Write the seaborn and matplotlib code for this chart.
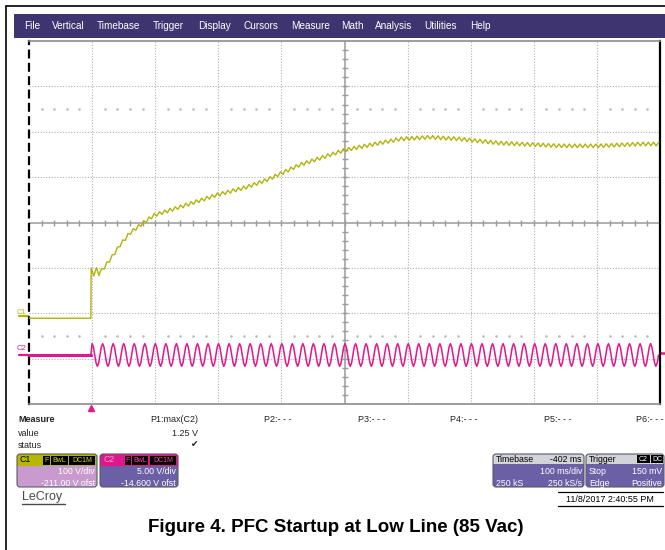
import numpy as np
import matplotlib
matplotlib.use("Agg")
import matplotlib.pyplot as plt
import seaborn as sns
from matplotlib.patches import Rectangle, FancyBboxPatch

sns.set_theme(style="white")
plt.rcParams['font.family'] = ['Liberation Sans', 'DejaVu Sans']

menu_items = ["File", "Vertical", "Timebase", "Trigger", "Display", "Cursors",
              "Measure", "Math", "Analysis", "Utilities", "Help"]
menu_x = [24, 52, 97, 153, 198, 243, 291, 341, 375, 424, 470]

# 100 ms/div, trigger sits 98 ms right of the left edge
t_left, t_right = -98, 902

# C1: 100 V/div, -211 V offset (bulk voltage level, V)
c1_vdiv, c1_ofst = 100.0, -211.0
c1_t = [-98, -0.5, 0.5, 16, 30, 46, 62, 78, 100, 141, 200, 247, 279, 331,
        403, 490, 537, 585, 648, 743, 806, 870, 902]
c1_v = [0, 0, 102, 103, 128, 161, 188, 205, 227, 245, 272, 289, 305, 338,
        371, 395, 399, 395, 386, 380, 380, 384, 384]
# one 120 Hz ripple period (4 samples, V); larger during the first ~17 ms
c1_ripple = [4, 0, -4, 0]
c1_ripple_start = [9, 0, -9, 0]
c1_ripple_ms = 8.33

# C2: 5 V/div, -14.6 V offset; one 60 Hz line cycle (8 samples, V)
c2_vdiv, c2_ofst = 5.0, -14.6
c2_cycle = [1.25, 0.88, 0.0, -0.88, -1.25, -0.88, 0.0, 0.88]
c2_period_ms = 16.7

measure_cols = ["P1:max(C2)", "P2:- - -", "P3:- - -", "P4:- - -", "P5:- - -", "P6:- - -"]
measure_x = [198, 291, 385, 478, 571, 664]

C1_COL = '#b3b30c'
C2_COL = '#e2178a'
GRID = '#b0b0b0'

# ---- build traces ----
n1 = int(t_right / c1_ripple_ms * 4)
t1 = 0.5 + np.arange(n1) * c1_ripple_ms / 4
rip = np.tile(c1_ripple, n1 // 4 + 1)[:n1]
rip_start = np.tile(c1_ripple_start, n1 // 4 + 1)[:n1]
rip = np.where(t1 < 17, rip_start, rip)
c1_trace_t = np.concatenate([[-98, 0], t1])
c1_trace_v = np.concatenate([[0, 0], np.interp(t1, c1_t, c1_v) + rip])

n2 = int((t_right - 2) / c2_period_ms * 8)
t2 = 2 + np.arange(n2) * c2_period_ms / 8
c2_trace_t = np.concatenate([[0], t2])
c2_trace_v = np.concatenate([[0], np.tile(c2_cycle, n2 // 8 + 1)[:n2]])

fig = plt.figure(figsize=(6.65, 5.5), dpi=100)

# pixel-space canvas for the scope chrome
bg = fig.add_axes([0, 0, 1, 1])
bg.set_xlim(0, 665)
bg.set_ylim(550, 0)
bg.axis('off')

# outer frame
bg.plot([6, 6], [6, 550], color='black', lw=1.2)
bg.plot([6, 665], [6, 6], color='black', lw=1.2)

# menu bar
bg.add_patch(Rectangle((14, 14), 651, 24, fc='#3e3570', ec='none'))
for name, x in zip(menu_items, menu_x):
    bg.text(x, 26, name, color='white', fontsize=7.2, ha='left', va='center')

# channel markers left of the grid
bg.text(17, 312, "C1", color=C1_COL, fontsize=5.5, ha='left', va='center')
bg.plot([19, 29], [316, 316], color=C1_COL, lw=1.6)
bg.text(17, 349, "C2", color=C2_COL, fontsize=5.5, ha='left', va='center')
bg.plot([19, 29], [355, 355], color=C2_COL, lw=1.6)
# trigger markers
bg.plot(91, 408, marker='^', color=C2_COL, ms=4.5)
bg.plot([660, 665], [353, 353], color=C2_COL, lw=1.8)

# ---- the graticule + traces ----
ax = fig.add_axes([29 / 665, 1 - 404 / 550, 631 / 665, 363 / 550])
ax.set_xlim(t_left, t_right)
ax.set_ylim(-4 * c1_vdiv - c1_ofst, 4 * c1_vdiv - c1_ofst)
ax.set_xticks([])
ax.set_yticks([])
ax.set_facecolor('white')

x_center = t_left + 500
y_center = -c1_ofst
for k in range(1, 10):
    if k != 5:
        ax.axvline(t_left + 100 * k, color=GRID, lw=0.8, ls=(0, (1, 1.5)), zorder=1)
for d in range(-3, 4):
    if d != 0:
        ax.axhline(d * c1_vdiv - c1_ofst, color=GRID, lw=0.8, ls=(0, (1, 1.5)), zorder=1)
ax.axvline(x_center, color='#9a9a9a', lw=1.1, zorder=1)
ax.axhline(y_center, color='#9a9a9a', lw=1.1, zorder=1)
minor_t = [t_left + 20 * k for k in range(1, 50)]
ax.plot(minor_t, [y_center] * len(minor_t), ls='none', marker='|', ms=4.5,
        mew=1.0, color='#9a9a9a', zorder=1)
minor_v = [y_center + 20 * k for k in range(-19, 20) if k != 0]
ax.plot([x_center] * len(minor_v), minor_v, ls='none', marker='_', ms=4.5,
        mew=1.0, color='#9a9a9a', zorder=1)
dot_t = [t_left + 20 * k for k in range(1, 50) if k % 5 != 0]
for d in (2.5, -2.5):
    ax.plot(dot_t, [d * c1_vdiv - c1_ofst] * len(dot_t), ls='none', marker='.',
            ms=1.6, color='#b8b8b8', zorder=1)

for side in ('top', 'bottom'):
    ax.spines[side].set_color('#8c8c8c')
    ax.spines[side].set_linewidth(1.2)
ax.spines['right'].set_color('black')
ax.spines['right'].set_linewidth(1.6)
ax.spines['left'].set_color('black')
ax.spines['left'].set_linewidth(1.6)
ax.spines['left'].set_linestyle((0, (3, 3)))

sns.lineplot(x=c1_trace_t, y=c1_trace_v, ax=ax, color=C1_COL, lw=1.0,
             estimator=None, sort=False, zorder=3)

ax2 = ax.twinx()
ax2.set_ylim(-4 * c2_vdiv - c2_ofst, 4 * c2_vdiv - c2_ofst)
ax2.set_yticks([])
ax2.axis('off')
sns.lineplot(x=[t_left, 0], y=[0, 0], ax=ax2, color=C2_COL, lw=2.2,
             estimator=None, sort=False, zorder=3)
sns.lineplot(x=c2_trace_t, y=c2_trace_v, ax=ax2, color=C2_COL, lw=1.1,
             estimator=None, sort=False, zorder=3)

# ---- measure table ----
TXT = '#222222'
bg.text(18, 420, "Measure", fontsize=6.5, weight='bold', color=TXT, va='center')
bg.text(18, 433, "value", fontsize=6.5, color=TXT, va='center')
bg.text(18, 445, "status", fontsize=6.5, color=TXT, va='center')
for label, x in zip(measure_cols, measure_x):
    bg.text(x, 420, label, fontsize=6.5, color=TXT, ha='right', va='center')
bg.text(198, 433, "1.25 V", fontsize=6.5, color=TXT, ha='right', va='center')
bg.text(198, 445, "\u2714", fontsize=6.5, color=TXT, ha='right', va='center',
        family=['DejaVu Sans'])


def panel(x0, x1, y0, y1, hh, head_c, body_c):
    w, h = x1 - x0, y1 - y0
    bg.add_patch(FancyBboxPatch((x0, y0), w, h, boxstyle="round,pad=0,rounding_size=3",
                                fc=body_c, ec='none'))
    bg.add_patch(FancyBboxPatch((x0, y0), w, hh + 4, boxstyle="round,pad=0,rounding_size=3",
                                fc=head_c, ec='none'))
    bg.add_patch(Rectangle((x0, y0 + hh), w, 5, fc=body_c, ec='none'))
    bg.add_patch(FancyBboxPatch((x0, y0), w, h, boxstyle="round,pad=0,rounding_size=3",
                                fc='none', ec='#5a5a6a', lw=0.8))


def badge(x0, x1, label, fc, tc, y0=456, y1=465):
    bg.add_patch(Rectangle((x0, y0), x1 - x0, y1 - y0, fc=fc, ec='none'))
    bg.text((x0 + x1) / 2, (y0 + y1) / 2 + 0.3, label, color=tc, fontsize=5.0,
            ha='center', va='center')


PURPLE = '#6b60a6'
# C1 panel
panel(17, 97, 454, 487, 12, '#b5b700', '#c89acd')
bg.text(20, 460, "C1", fontsize=6.3, color='black', va='center')
badge(43, 50, "F", 'black', '#d7d700')
badge(51, 68, "BwL", 'black', '#d7d700')
badge(69, 95, "DC1M", 'black', '#d7d700')
bg.text(95, 472, "100 V/div", fontsize=6.3, color='white', ha='right', va='center')
bg.text(95, 483, "-211.00 V ofst", fontsize=6.3, color='white', ha='right', va='center')

# C2 panel
panel(100, 178, 454, 487, 12, '#e0168a', PURPLE)
bg.text(103, 460, "C2", fontsize=6.3, color='#f6a0d0', va='center')
badge(125, 131, "F", 'black', '#ff4aa8')
badge(132, 148, "BwL", 'black', '#ff4aa8')
badge(150, 176, "DC1M", 'black', '#ff4aa8')
bg.text(176, 472, "5.00 V/div", fontsize=6.3, color='white', ha='right', va='center')
bg.text(176, 483, "-14.600 V ofst", fontsize=6.3, color='white', ha='right', va='center')

bg.text(22, 497, "LeCroy", fontsize=9, color='#4a4a4a', va='center')
bg.plot([22, 65], [504, 504], color='#4a4a4a', lw=1.0)

# timebase / trigger panels
panel(493, 584, 454, 487, 10, '#d3d3db', PURPLE)
bg.text(496, 459, "Timebase", fontsize=6.3, color='black', va='center')
bg.text(582, 459, "-402 ms", fontsize=6.3, color='black', ha='right', va='center')
bg.text(582, 472, "100 ms/div", fontsize=6.3, color='white', ha='right', va='center')
bg.text(496, 483, "250 kS", fontsize=6.3, color='white', va='center')
bg.text(582, 483, "250 kS/s", fontsize=6.3, color='white', ha='right', va='center')

panel(586, 664, 454, 487, 10, '#d3d3db', PURPLE)
bg.text(589, 459, "Trigger", fontsize=6.3, color='black', va='center')
badge(637, 650, "C2", 'black', 'white', 455, 463)
badge(651, 663, "DC", 'black', 'white', 455, 463)
bg.text(589, 472, "Stop", fontsize=6.3, color='white', va='center')
bg.text(662, 472, "150 mV", fontsize=6.3, color='white', ha='right', va='center')
bg.text(589, 483, "Edge", fontsize=6.3, color='white', va='center')
bg.text(662, 483, "Positive", fontsize=6.3, color='white', ha='right', va='center')

bg.plot([558, 663], [492, 492], color='black', lw=0.9)
bg.text(610, 500, "11/8/2017 2:40:55 PM", fontsize=6.5, color='black', ha='center', va='center')
bg.plot([558, 663], [506, 506], color='black', lw=0.9)

# caption
bg.text(336, 527, "Figure 4. PFC Startup at Low Line (85 Vac)", fontsize=13.5,
        weight='bold', color='black', ha='center', va='center')

fig.savefig("out.png", dpi=100)
